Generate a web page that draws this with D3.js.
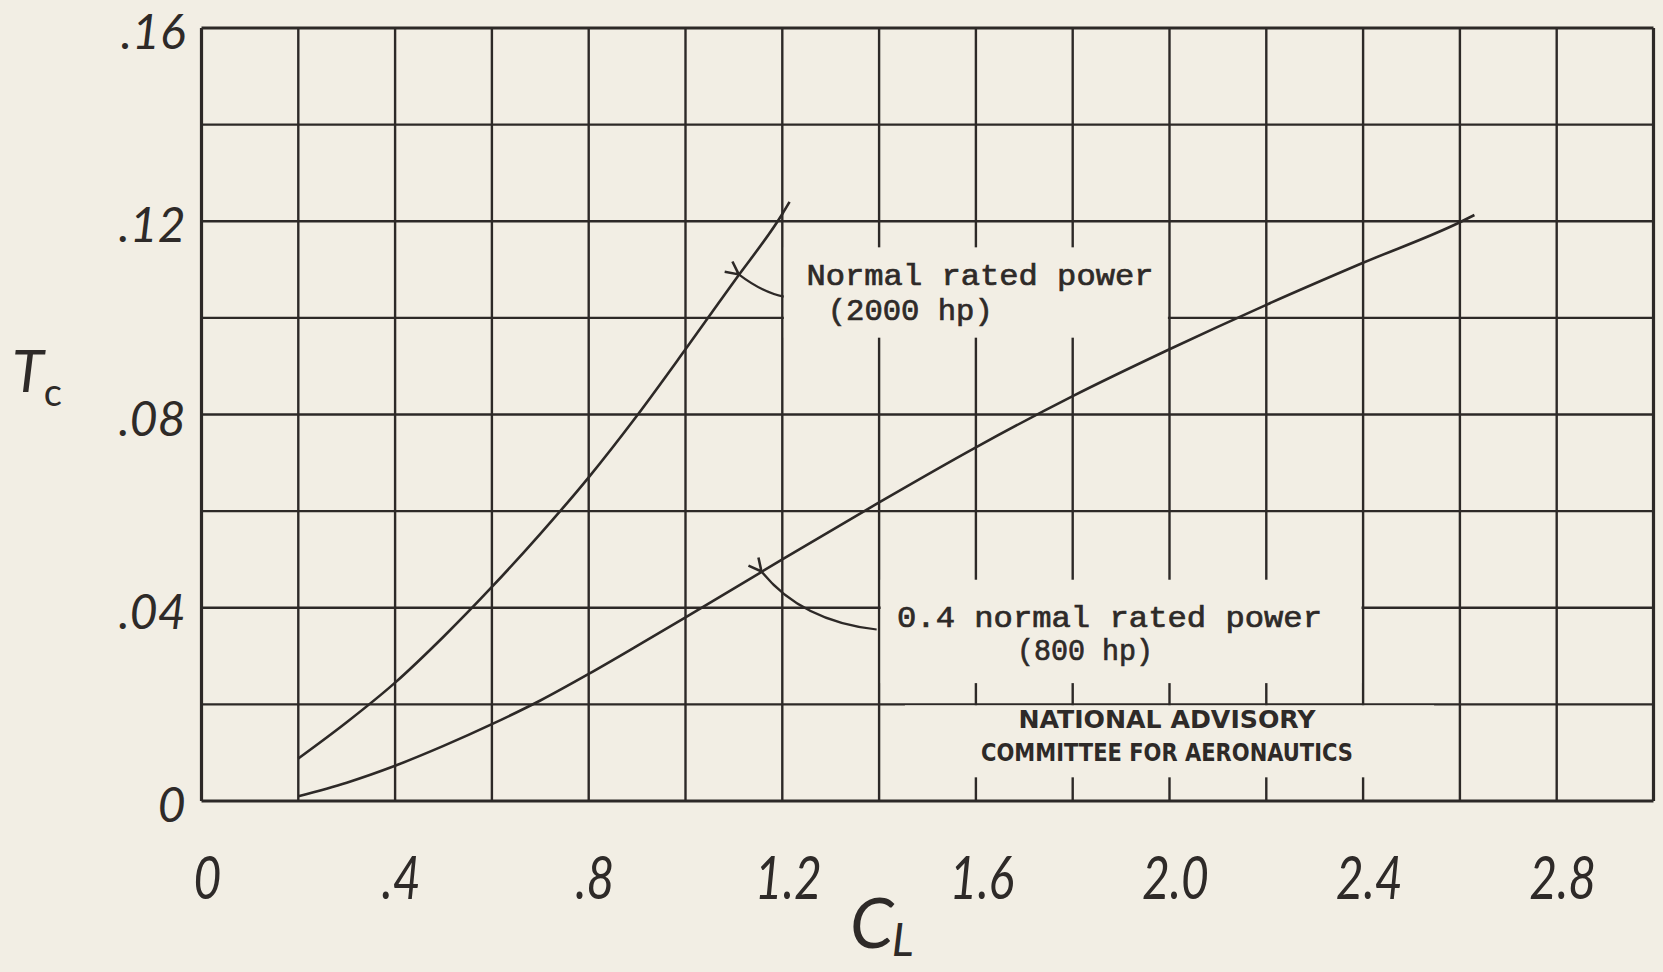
<!DOCTYPE html>
<html>
<head>
<meta charset="utf-8">
<script src="https://cdn.jsdelivr.net/npm/d3@7"></script>
<style>
  html, body { margin: 0; padding: 0; background: #f2eee4; }
  svg { display: block; }
  .hand { font-family: "Lato", "DejaVu Sans", sans-serif; font-style: italic; font-weight: 400; fill: #2e2a28; }
  .typed { font-family: "Liberation Mono", "DejaVu Sans Mono", monospace; fill: #2e2a28; stroke: #2e2a28; stroke-width: 0.7; }
  .stamp { font-family: "DejaVu Sans", sans-serif; font-weight: bold; font-stretch: condensed; fill: #2e2a28; }
</style>
</head>
<body>
<svg id="chart" width="1663" height="972"></svg>
<script>
// thrust coefficient vs lift coefficient
const clNormal = [0.2, 0.3, 0.4, 0.5, 0.6, 0.7, 0.8, 0.9, 1.0, 1.1, 1.2, 1.215];
const tcNormal = [0.0088, 0.0163, 0.0245, 0.0340, 0.0443, 0.0553, 0.0670, 0.0798, 0.0935, 0.1075, 0.1215, 0.1240];

const clReduced = [0.2, 0.3, 0.4, 0.5, 0.6, 0.7, 0.8, 0.9, 1.0, 1.2, 1.4, 1.6, 1.8, 2.0, 2.2, 2.4, 2.6, 2.63];
const tcReduced = [0.0010, 0.0038, 0.0073, 0.0114, 0.0159, 0.0208, 0.0263, 0.0321, 0.0380, 0.0500, 0.0618, 0.0732, 0.0838, 0.0935, 0.1027, 0.1114, 0.1198, 0.1213];

const xTickLabels = ["0", ".4", ".8", "1.2", "1.6", "2.0", "2.4", "2.8"];
const xTickValues = [0, 0.4, 0.8, 1.2, 1.6, 2.0, 2.4, 2.8];
const yTickLabels = ["0", ".04", ".08", ".12", ".16"];
const yTickValues = [0, 0.04, 0.08, 0.12, 0.16];

const ink = "#2d2927";
const paper = "#f2eee4";

let svg = d3.select("#chart");
let margin = {left: 201.5, right: 9.5, top: 28, bottom: 171};
let W = 1663, H = 972;

let x = d3.scaleLinear().domain([0, 3.0]).range([margin.left, W - margin.right]);
let y = d3.scaleLinear().domain([0, 0.16]).range([H - margin.bottom, margin.top]);

// grid lines, every 0.2 in C_L and 0.02 in T_c
let xGrid = d3.range(0, 15.5).map(i => i * 0.2);
let yGrid = d3.range(0, 8.5).map(i => i * 0.02);

let grid = svg.append("g");
grid.selectAll(".vline").data(xGrid).join("line")
    .attr("class", "vline")
    .attr("x1", d => x(d)).attr("x2", d => x(d))
    .attr("y1", y(0)).attr("y2", y(0.16))
    .style("stroke", ink)
    .style("stroke-width", (d, i) => (i == 0 || i == xGrid.length - 1) ? 3.2 : 2.4);

grid.selectAll(".hline").data(yGrid).join("line")
    .attr("class", "hline")
    .attr("x1", x(0)).attr("x2", x(3.0))
    .attr("y1", d => y(d)).attr("y2", d => y(d))
    .style("stroke", ink)
    .style("stroke-width", (d, i) => (i == 0 || i == yGrid.length - 1) ? 3.2 : 2.4);

// blank patches of paper behind the typed notes (grid is cut there)
let patches = [
    {x0: 1.2, x1: 2.0, y0: 0.0959, y1: 0.1146},
    {x0: 1.4, x1: 2.4, y0: 0.0244, y1: 0.0458},
    {x0: 1.45, x1: 2.55, y0: 0.0049, y1: 0.0198}
];
svg.append("g").selectAll("rect").data(patches).join("rect")
    .attr("x", d => x(d.x0) + 1.6)
    .attr("y", d => y(d.y1))
    .attr("width", d => x(d.x1) - x(d.x0) - 3.2)
    .attr("height", d => y(d.y0) - y(d.y1))
    .style("fill", paper);

// curves
let line = d3.line()
    .x(d => x(d[0]))
    .y(d => y(d[1]))
    .curve(d3.curveMonotoneX);

svg.append("path")
    .datum(d3.zip(clNormal, tcNormal))
    .attr("d", line)
    .style("fill", "none").style("stroke", ink).style("stroke-width", 2.6);

svg.append("path")
    .datum(d3.zip(clReduced, tcReduced))
    .attr("d", line)
    .style("fill", "none").style("stroke", ink).style("stroke-width", 2.6);

// leader arrows
svg.append("defs").append("marker")
    .attr("id", "head")
    .attr("viewBox", "0 0 10 10")
    .attr("refX", 1).attr("refY", 5)
    .attr("markerWidth", 16).attr("markerHeight", 16)
    .attr("markerUnits", "userSpaceOnUse")
    .attr("orient", "auto-start-reverse")
    .append("path")
    .attr("d", "M9,1 L1,5 L9,9")
    .style("fill", "none").style("stroke", ink).style("stroke-width", 1.6);

let leaders = [
    {from: [1.203, 0.1044], ctrl: [1.16, 0.1052], to: [1.11, 0.1090]},
    {from: [1.395, 0.0355], ctrl: [1.24, 0.0372], to: [1.157, 0.0475]}
];
svg.append("g").selectAll("path").data(leaders).join("path")
    .attr("d", d => "M" + x(d.from[0]) + "," + y(d.from[1]) +
        " Q" + x(d.ctrl[0]) + "," + y(d.ctrl[1]) + " " + x(d.to[0]) + "," + y(d.to[1]))
    .attr("marker-end", "url(#head)")
    .style("fill", "none").style("stroke", ink).style("stroke-width", 2.2);

// typed notes
let notes = [
    {text: "Normal rated power", cx: 1.25, ty: 0.1069, len: 347},
    {text: "(2000 hp)", cx: 1.294, ty: 0.0996, len: 165},
    {text: "0.4 normal rated power", cx: 1.437, ty: 0.0360, len: 425},
    {text: "(800 hp)", cx: 1.685, ty: 0.0292, len: 136}
];
svg.append("g").selectAll("text").data(notes).join("text")
    .attr("class", "typed")
    .attr("x", d => x(d.cx))
    .attr("y", d => y(d.ty))
    .attr("textLength", d => d.len)
    .attr("lengthAdjust", "spacingAndGlyphs")
    .style("font-size", "30px")
    .text(d => d.text);

// NACA stamp
let stamp = [
    {text: "NATIONAL ADVISORY", ty: 0.0152, len: 297},
    {text: "COMMITTEE FOR AERONAUTICS", ty: 0.0083, len: 372}
];
svg.append("g").selectAll("text").data(stamp).join("text")
    .attr("class", "stamp")
    .attr("x", 1167)
    .attr("y", d => y(d.ty))
    .attr("text-anchor", "middle")
    .attr("textLength", d => d.len)
    .attr("lengthAdjust", "spacingAndGlyphs")
    .style("font-size", "25px")
    .text(d => d.text);

// y tick labels
svg.append("g").selectAll("text").data(yTickValues).join("text")
    .attr("class", "hand")
    .attr("x", x(0) - 16)
    .attr("y", d => y(d) + 21)
    .attr("text-anchor", "end")
    .style("font-size", "48px")
    .text((d, i) => yTickLabels[i]);

// x tick labels
let xl = svg.append("g").selectAll("text").data(xTickValues).join("text")
    .attr("class", "hand")
    .attr("x", d => x(d) + 6)
    .attr("y", 899)
    .attr("text-anchor", "middle")
    .style("font-size", "60px")
    .text((d, i) => xTickLabels[i]);
xl.each(function () {
    let n = this.getComputedTextLength();
    d3.select(this).attr("textLength", n * 0.8).attr("lengthAdjust", "spacingAndGlyphs");
});

// axis titles
let ty = svg.append("text").attr("class", "hand")
    .attr("x", 12).attr("y", 392)
    .style("font-size", "58px");
ty.append("tspan").text("T");
ty.append("tspan").attr("dx", 0).attr("dy", 14).style("font-size", "38px").style("font-style", "normal").text("c");

let tx = svg.append("text").attr("class", "hand")
    .attr("x", 850).attr("y", 948)
    .style("font-size", "70px");
tx.append("tspan").text("C");
tx.append("tspan").attr("dx", -2).attr("dy", 8).style("font-size", "46px").text("L");
</script>
</body>
</html>
